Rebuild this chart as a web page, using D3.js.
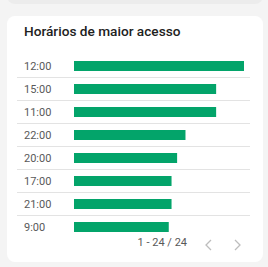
<!DOCTYPE html>
<html><head><meta charset="utf-8">
<script src="https://cdn.jsdelivr.net/npm/d3@7"></script>
<style>
html,body{margin:0;padding:0;background:#f4f4f4;}
svg{display:block;}
text{font-family:Roboto,"Noto Sans",sans-serif;}
</style></head>
<body>
<svg id="c" width="268" height="267"></svg>
<script>
const title = "Horários de maior acesso";
const hours = ["12:00","15:00","11:00","22:00","20:00","17:00","21:00","9:00"];
const sessions = [61,51,51,40,37,35,35,34];
const pager = "1 - 24 / 24";

const svg = d3.select("#c");
// previous card bottom
svg.append("rect").attr("x",7).attr("y",-20).attr("width",256).attr("height",24).attr("rx",8).attr("fill","#ececec");
// card
svg.append("rect").attr("x",7).attr("y",16).attr("width",256).attr("height",246).attr("rx",8).attr("fill","#ffffff");

svg.append("text").attr("x",24).attr("y",35.5).attr("font-size",13.65).attr("font-weight",500)
  .attr("fill","#212121").text(title);

const y = d3.scaleBand().domain(hours).range([54,238]).paddingInner(0).paddingOuter(0);
const x = d3.scaleLinear().domain([0,d3.max(sessions)]).range([74,244]);
const data = hours.map((h,i)=>({h, v:sessions[i]}));

const rows = svg.append("g");
rows.selectAll("line.sep").data(hours.slice(0,-1)).join("line")
  .attr("x1",17).attr("x2",250)
  .attr("y1",d=>y(d)+y.bandwidth()+0.5).attr("y2",d=>y(d)+y.bandwidth()+0.5)
  .attr("stroke","#e3e3e3").attr("stroke-width",1);

rows.selectAll("rect.bar").data(data).join("rect")
  .attr("x",x(0)).attr("y",d=>y(d.h)+y.bandwidth()/2-4.5)
  .attr("width",d=>x(d.v)-x(0)).attr("height",10)
  .attr("fill","#03a46a");

rows.selectAll("text.lab").data(data).join("text")
  .attr("x",24).attr("y",d=>y(d.h)+y.bandwidth()/2+4.5)
  .attr("font-size",11).attr("fill","#595959").text(d=>d.h);

svg.append("text").attr("x",187).attr("y",246).attr("text-anchor","end")
  .attr("font-size",11).attr("fill","#595959").text(pager);

const chev = svg.append("g").attr("fill","none").attr("stroke","#bdbdbd").attr("stroke-width",1.3);
chev.append("path").attr("d","M211,240 L206,245 L211,250");
chev.append("path").attr("d","M235,240 L240,245 L235,250");
</script>
</body></html>
